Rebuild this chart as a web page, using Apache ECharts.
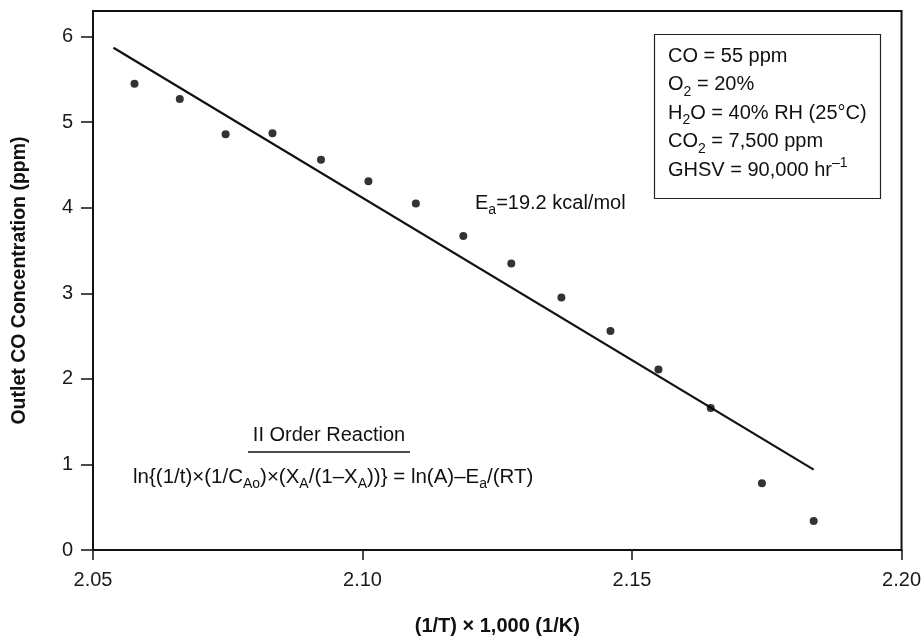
<!DOCTYPE html>
<html>
<head>
<meta charset="utf-8">
<title>Outlet CO Concentration vs 1/T</title>
<script src="https://cdn.jsdelivr.net/npm/echarts@6/dist/echarts.min.js"></script>
<style>
  html, body { margin: 0; padding: 0; background: #fff; }
  #chart { width: 924px; height: 643px; }
</style>
</head>
<body>
<div id="chart"></div>
<script>
// Measured points: (1/T) x 1000 and outlet CO concentration
var invTemp = [2.0577, 2.0661, 2.0746, 2.0833, 2.0923, 2.1011, 2.1099, 2.1187,
               2.1276, 2.1369, 2.1460, 2.1549, 2.1646, 2.1741, 2.1837];
var outletCO = [5.45, 5.27, 4.86, 4.87, 4.56, 4.31, 4.05, 3.67,
                3.35, 2.95, 2.56, 2.11, 1.66, 0.78, 0.34];

// Arrhenius fit line end points
var fitX = [2.0538, 2.1837];
var fitY = [5.87, 0.94];

// Axis ticks
var xTicks = [2.05, 2.10, 2.15, 2.20];
var yTicks = [0, 1, 2, 3, 4, 5, 6];

// Feed conditions shown in the box
var conditionLines = [
  'CO = 55 ppm',
  'O{sub|2} = 20%',
  'H{sub|2}O = 40% RH (25°C)',
  'CO{sub|2} = 7,500 ppm',
  'GHSV = 90,000 hr{sup|–1}'
];

var FONT = 'Liberation Sans, Arial, sans-serif';
var richSub = {
  sub: { fontSize: 14, fontFamily: FONT, lineHeight: 12, verticalAlign: 'bottom', fill: '#111' },
  sup: { fontSize: 14, fontFamily: FONT, lineHeight: 20, verticalAlign: 'top', fill: '#111' }
};

var chart = echarts.init(document.getElementById('chart'), null, { renderer: 'canvas' });

chart.setOption({
  animation: false,
  backgroundColor: '#fff',
  grid: {
    left: 93, right: 21, top: 11, bottom: 93,
    show: true, borderColor: '#111', borderWidth: 2, backgroundColor: 'transparent'
  },
  xAxis: {
    type: 'value',
    min: 2.05, max: 2.20, interval: 0.05,
    name: '(1/T) × 1,000 (1/K)',
    nameLocation: 'middle',
    nameGap: 66,
    nameTextStyle: { fontFamily: FONT, fontSize: 20, fontWeight: 'bold', color: '#111' },
    axisLine: { show: true, lineStyle: { color: '#111', width: 2 } },
    axisTick: { show: true, length: 10, inside: false, customValues: xTicks, lineStyle: { color: '#111', width: 1.5 } },
    axisLabel: {
      customValues: xTicks,
      margin: 20,
      fontFamily: FONT, fontSize: 20, color: '#1a1a1a',
      formatter: function (v) { return v.toFixed(2); }
    },
    splitLine: { show: false }
  },
  yAxis: {
    type: 'value',
    min: 0, max: 6.3, interval: 1,
    name: 'Outlet CO Concentration (ppm)',
    nameLocation: 'middle',
    nameGap: 63,
    nameTextStyle: { fontFamily: FONT, fontSize: 19.5, fontWeight: 'bold', color: '#111' },
    axisLine: { show: true, lineStyle: { color: '#111', width: 2 } },
    axisTick: { show: true, length: 12, inside: false, customValues: yTicks, lineStyle: { color: '#111', width: 1.5 } },
    axisLabel: {
      customValues: yTicks,
      margin: 20,
      fontFamily: FONT, fontSize: 20, color: '#1a1a1a'
    },
    splitLine: { show: false }
  },
  series: [
    {
      type: 'line',
      data: fitX.map(function (x, i) { return [x, fitY[i]]; }),
      showSymbol: false,
      symbol: 'none',
      lineStyle: { color: '#111', width: 2.2 },
      z: 2
    },
    {
      type: 'scatter',
      data: invTemp.map(function (x, i) { return [x, outletCO[i]]; }),
      symbol: 'circle',
      symbolSize: 8,
      itemStyle: { color: '#000' },
      z: 3
    }
  ],
  graphic: [
    // Feed-conditions box
    {
      type: 'rect',
      shape: { x: 654.5, y: 34.5, width: 226, height: 164 },
      style: { fill: '#fff', stroke: '#222', lineWidth: 1.2 },
      z: 10
    },
    {
      type: 'text',
      x: 668, y: 42,
      style: {
        text: conditionLines.join('\n'),
        fontFamily: FONT, fontSize: 20, lineHeight: 28.5,
        fill: '#111', align: 'left', verticalAlign: 'top',
        rich: richSub
      },
      z: 11
    },
    // Activation energy
    {
      type: 'text',
      x: 475, y: 189,
      style: {
        text: 'E{sub|a}=19.2 kcal/mol',
        fontFamily: FONT, fontSize: 20, lineHeight: 28,
        fill: '#111', align: 'left', verticalAlign: 'top',
        rich: richSub
      },
      z: 11
    },
    // Reaction order heading with rule beneath
    {
      type: 'text',
      x: 329, y: 435,
      style: {
        text: 'II Order Reaction',
        fontFamily: FONT, fontSize: 20,
        fill: '#111', align: 'center', verticalAlign: 'middle'
      },
      z: 11
    },
    {
      type: 'line',
      shape: { x1: 248, y1: 452, x2: 410, y2: 452 },
      style: { stroke: '#111', lineWidth: 1.5 },
      z: 11
    },
    // Rate expression
    {
      type: 'text',
      x: 133, y: 463,
      style: {
        text: 'ln{(1/t)×(1/C{sub|Ao})×(X{sub|A}/(1–X{sub|A}))} = ln(A)–E{sub|a}/(RT)',
        fontFamily: FONT, fontSize: 20.5, lineHeight: 28,
        fill: '#111', align: 'left', verticalAlign: 'top',
        rich: richSub
      },
      z: 11
    }
  ]
});
</script>
</body>
</html>
